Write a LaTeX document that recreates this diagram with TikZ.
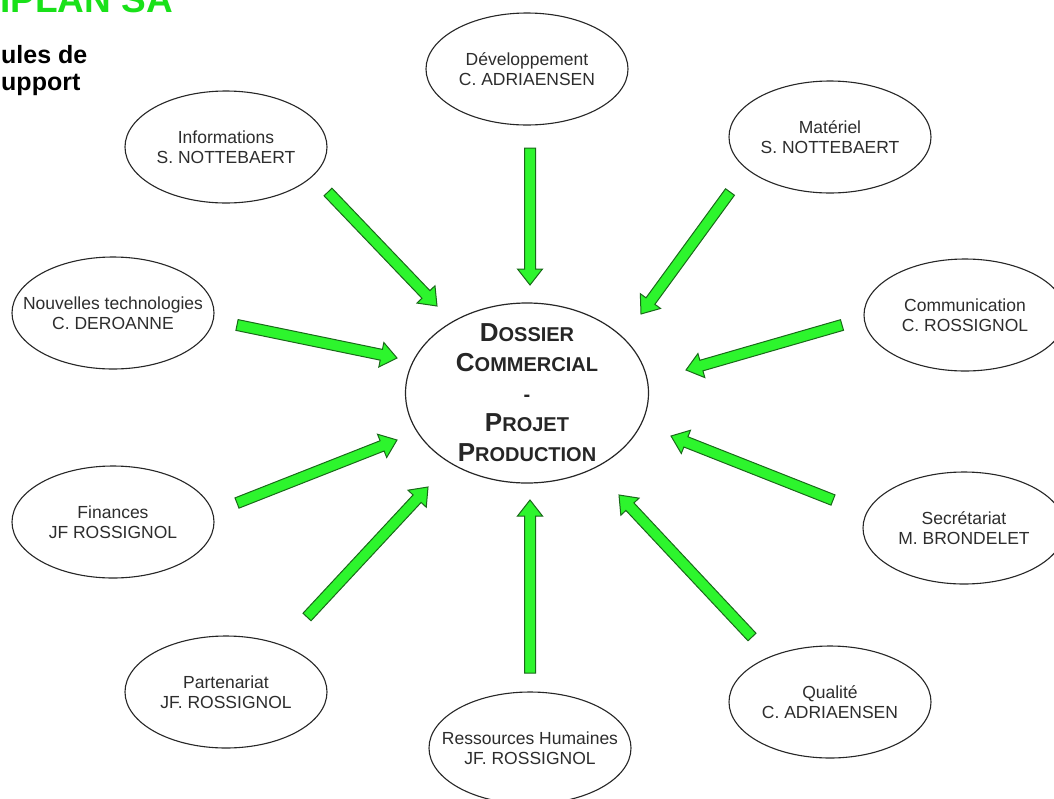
\documentclass[tikz,border=0pt]{standalone}
\usepackage{fontspec}
\setmainfont{Liberation Sans}
\usetikzlibrary{shapes.geometric,calc}
\definecolor{gfill}{RGB}{45,245,45}
\definecolor{gline}{RGB}{25,105,25}
\definecolor{ttl}{RGB}{25,225,25}
\definecolor{txt}{RGB}{45,45,45}
\newcommand\mysc[2]{{\fontsize{26}{30}\selectfont #1}#2}
\newcommand\garrow[2]{%
  \path let \p1=($(#2)-(#1)$) in \pgfextra{\pgfmathsetmacro\gang{atan2(\y1,\x1)}\pgfmathsetmacro\glen{veclen(\x1,\y1)}\global\let\gang\gang\global\let\glen\glen};
  \begin{scope}[shift={(#1)},rotate=\gang]
    \draw[barrow] (0,-5.5) -- (\glen-16,-5.5) -- (\glen-16,-12.5) -- (\glen,0) -- (\glen-16,12.5) -- (\glen-16,5.5) -- (0,5.5) -- cycle;
  \end{scope}}
\tikzset{
  sat/.style={ellipse, draw=black!85, line width=1.1pt, minimum width=202pt, minimum height=112pt, inner sep=0pt},
  lbl/.style={align=center, text=txt, inner sep=0pt, font=\fontsize{17.5}{20}\selectfont},
  hub/.style={ellipse, draw=black!85, line width=1.2pt, minimum width=243pt, minimum height=180pt, inner sep=0pt},
  hublbl/.style={align=center, inner sep=0pt, text=black!85, font=\bfseries\fontsize{20}{30}\selectfont},
  barrow/.style={fill=gfill, draw=gline, line width=1pt, line join=miter}
}
\begin{document}
\begin{tikzpicture}[x=1pt,y=1pt]
\clip (0,0) rectangle (1054,-798);
\fill[white] (0,0) rectangle (1054,-798);
% titles
\node[anchor=base west, inner sep=0pt, text=ttl, font=\bfseries\fontsize{37}{37}\selectfont] (title) at (0,-12) {IPLAN SA};
\node[anchor=base west, inner sep=0pt, font=\bfseries\fontsize{25}{27}\selectfont] (sub1) at (1,-63) {ules de};
\node[anchor=base west, inner sep=0pt, font=\bfseries\fontsize{25}{27}\selectfont] (sub2) at (1,-90) {upport};
% hub
\node[hub, label={[hublbl]center:{\mysc{D}{OSSIER}\\\mysc{C}{OMMERCIAL}\\-\\\mysc{P}{ROJET}\\\mysc{P}{RODUCTION}}}] (hub) at (527,-393) {};
% satellites
\node[sat, label={[lbl]center:{Informations\\S. NOTTEBAERT}}] (info) at (226,-147) {};
\node[sat, label={[lbl]center:{Développement\\C. ADRIAENSEN}}] (dev) at (527,-69) {};
\node[sat, label={[lbl]center:{Matériel\\S. NOTTEBAERT}}] (mat) at (830,-137) {};
\node[sat, label={[lbl]center:{Nouvelles technologies\\C. DEROANNE}}] (nouv) at (113,-313) {};
\node[sat, label={[lbl]center:{Communication\\C. ROSSIGNOL}}] (comm) at (965,-315) {};
\node[sat, label={[lbl]center:{Finances\\JF ROSSIGNOL}}] (fin) at (113,-522) {};
\node[sat, label={[lbl]center:{Secrétariat\\M. BRONDELET}}] (sec) at (964,-528) {};
\node[sat, label={[lbl]center:{Partenariat\\JF. ROSSIGNOL}}] (part) at (226,-692) {};
\node[sat, label={[lbl]center:{Ressources Humaines\\JF. ROSSIGNOL}}] (rh) at (530,-748) {};
\node[sat, label={[lbl]center:{Qualité\\C. ADRIAENSEN}}] (qual) at (830,-702) {};
% arrow endpoints
\coordinate (infoS) at (328,-192); \coordinate (infoE) at (437,-306);
\coordinate (devS) at (530,-148);  \coordinate (devE) at (530,-285);
\coordinate (matS) at (730,-192);  \coordinate (matE) at (641,-314);
\coordinate (nouvS) at (237,-325); \coordinate (nouvE) at (397,-358);
\coordinate (commS) at (842,-325); \coordinate (commE) at (686,-370);
\coordinate (finS) at (237,-503);  \coordinate (finE) at (397,-440);
\coordinate (secS) at (833,-500);  \coordinate (secE) at (671,-436);
\coordinate (partS) at (307,-617); \coordinate (partE) at (428,-487);
\coordinate (rhS) at (530,-673);   \coordinate (rhE) at (530,-500);
\coordinate (qualS) at (752,-637); \coordinate (qualE) at (619,-495);
\garrow{infoS}{infoE}
\garrow{devS}{devE}
\garrow{matS}{matE}
\garrow{nouvS}{nouvE}
\garrow{commS}{commE}
\garrow{finS}{finE}
\garrow{secS}{secE}
\garrow{partS}{partE}
\garrow{rhS}{rhE}
\garrow{qualS}{qualE}
\end{tikzpicture}
\end{document}
